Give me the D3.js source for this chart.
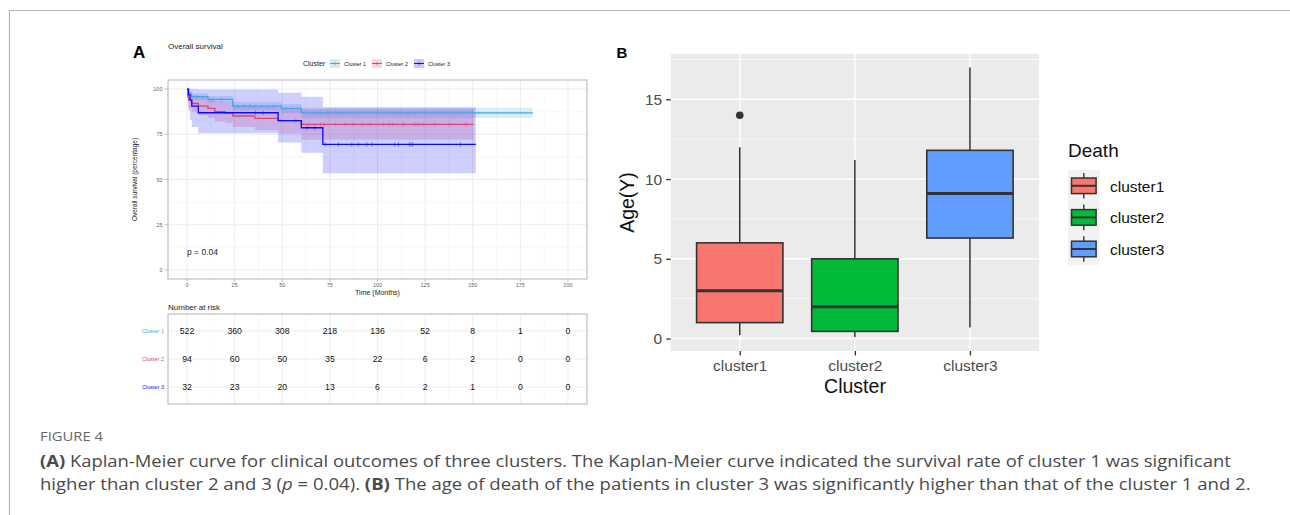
<!DOCTYPE html>
<html>
<head>
<meta charset="utf-8">
<script src="https://cdn.jsdelivr.net/npm/d3@7"></script>
<style>
  body { margin: 0; background: #fff; }
  svg { display: block; font-family: "Liberation Sans", Arial, sans-serif; }
</style>
</head>
<body>
<div id="fig"></div>
<script>
  // ---------- panel A data ----------
  var clusters = ["Cluster 1", "Cluster 2", "Cluster 3"];
  var kmColors = ["#45a5e6", "#dc4470", "#0a0aff"];

  var c1Time  = [0, 1, 2.4, 11, 24, 49.5, 60, 181.5];
  var c1Surv  = [100, 97.6, 95.8, 94.3, 90.6, 89.3, 86.8, 86.8];
  var c1Lower = [100, 96, 94, 92.4, 88.3, 86.8, 84, 84];
  var c1Upper = [100, 99, 97.6, 96.2, 93, 91.8, 89.7, 89.7];
  var c1Cens  = [5, 8, 14, 18, 27, 30, 33, 36, 39, 42, 45, 52, 55, 58, 63, 66, 70, 74, 78, 82, 86, 90, 95, 100, 104, 108, 112, 116, 120, 125, 130, 135, 140, 145, 150, 153];

  var c2Time  = [0, 0.4, 0.8, 2.4, 5.9, 11, 14.6, 20, 24, 35.6, 47.8, 60, 150.5];
  var c2Surv  = [100, 95.7, 93.9, 92, 90.6, 89.3, 87.5, 86.9, 85.1, 83.8, 82.5, 80.5, 80.5];
  var c2Lower = [100, 91.5, 89.5, 87.4, 85.5, 84, 82, 81.2, 79, 77.2, 75.4, 72, 72];
  var c2Upper = [100, 99, 98, 96.5, 95.5, 94.5, 93, 92.5, 91, 90.5, 89.5, 88.8, 88.8];
  var c2Cens  = [49, 57, 64, 70, 72, 78, 83, 87, 92, 96, 103, 106, 108, 113, 114, 119, 120, 121, 122, 124, 130, 138, 146, 147];

  var c3Time  = [0, 0.7, 1.6, 2.5, 5.9, 47.8, 60, 71.3, 151.6];
  var c3Surv  = [100, 96.8, 93.9, 90.6, 86.9, 82.5, 78.6, 69.4, 69.4];
  var c3Lower = [100, 88, 83, 79, 75.5, 70.5, 64.8, 53.4, 53.4];
  var c3Upper = [100, 100, 100, 100, 99.8, 98, 95.8, 90, 90];
  var c3Cens  = [36, 40, 63, 67, 72.5, 79.5, 86.5, 90, 94.4, 97, 109, 111, 116.8, 117.6, 118.5, 143.6];

  var riskTimes = [0, 25, 50, 75, 100, 125, 150, 175, 200];
  var risk1 = [522, 360, 308, 218, 136, 52, 8, 1, 0];
  var risk2 = [94, 60, 50, 35, 22, 6, 2, 0, 0];
  var risk3 = [32, 23, 20, 13, 6, 2, 1, 0, 0];

  // ---------- panel B data ----------
  var boxCats   = ["cluster1", "cluster2", "cluster3"];
  var boxLow    = [0.2, 0.1, 0.7];
  var boxQ1     = [1, 0.45, 6.3];
  var boxMed    = [3, 2, 9.1];
  var boxQ3     = [6, 5, 11.8];
  var boxHigh   = [12, 11.2, 17];
  var boxOut    = [[14], [], []];
  var boxColors = ["#F8766D", "#00BA38", "#619CFF"];

  var kmData = [
    {time: c1Time, surv: c1Surv, lo: c1Lower, hi: c1Upper, cens: c1Cens},
    {time: c2Time, surv: c2Surv, lo: c2Lower, hi: c2Upper, cens: c2Cens},
    {time: c3Time, surv: c3Surv, lo: c3Lower, hi: c3Upper, cens: c3Cens}
  ];
  var riskRows = [risk1, risk2, risk3];

  var svg = d3.select("#fig").append("svg")
      .attr("width", 1290).attr("height", 515);

  // figure frame
  svg.append("path")
      .attr("d", "M9.5,515V10.5H1290")
      .attr("fill", "none").attr("stroke", "#b5b5b5").attr("stroke-width", 1.2);

  // =================== PANEL A ===================
  var x = d3.scaleLinear().domain([-10, 210]).range([168, 587]);
  var y = d3.scaleLinear().domain([-5, 105]).range([279, 80]);

  svg.append("text").attr("x", 133).attr("y", 57.5)
      .style("font-size", "17px").style("font-weight", "bold").text("A");
  svg.append("text").attr("x", 168).attr("y", 49)
      .style("font-size", "8px").attr("fill", "#222").text("Overall survival");

  var gA = svg.append("g");
  var minorX = d3.range(12.5, 200, 25), majorX = d3.range(0, 201, 25);
  var minorY = [12.5, 37.5, 62.5, 87.5], majorY = [0, 25, 50, 75, 100];

  gA.selectAll(".mnx").data(minorX).enter().append("line")
      .attr("x1", d => x(d)).attr("x2", d => x(d)).attr("y1", 80).attr("y2", 279)
      .attr("stroke", "#f4f4f4").attr("stroke-width", 0.6);
  gA.selectAll(".mny").data(minorY).enter().append("line")
      .attr("y1", d => y(d)).attr("y2", d => y(d)).attr("x1", 168).attr("x2", 587)
      .attr("stroke", "#f4f4f4").attr("stroke-width", 0.6);
  gA.selectAll(".mjx").data(majorX).enter().append("line")
      .attr("x1", d => x(d)).attr("x2", d => x(d)).attr("y1", 80).attr("y2", 279)
      .attr("stroke", "#ebebeb").attr("stroke-width", 0.9);
  gA.selectAll(".mjy").data(majorY).enter().append("line")
      .attr("y1", d => y(d)).attr("y2", d => y(d)).attr("x1", 168).attr("x2", 587)
      .attr("stroke", "#ebebeb").attr("stroke-width", 0.9);

  var band = d3.area().curve(d3.curveStepAfter)
      .x(d => x(d[0])).y0(d => y(d[1])).y1(d => y(d[2]));
  var step = d3.line().curve(d3.curveStepAfter)
      .x(d => x(d[0])).y(d => y(d[1]));

  kmData.forEach(function(k, i) {
    var pts = k.time.map((t, j) => [t, k.lo[j], k.hi[j]]);
    gA.append("path").attr("d", band(pts))
        .attr("fill", kmColors[i]).attr("fill-opacity", 0.2);
  });
  kmData.forEach(function(k, i) {
    var pts = k.time.map((t, j) => [t, k.surv[j]]);
    gA.append("path").attr("d", step(pts))
        .attr("fill", "none").attr("stroke", kmColors[i]).attr("stroke-width", 1.3);
    gA.selectAll(null).data(k.cens).enter().append("line")
        .attr("x1", d => x(d)).attr("x2", d => x(d))
        .attr("y1", function(d) { var j = d3.bisectRight(k.time, d) - 1; return y(k.surv[j]) - 2.2; })
        .attr("y2", function(d) { var j = d3.bisectRight(k.time, d) - 1; return y(k.surv[j]) + 2.2; })
        .attr("stroke", kmColors[i]).attr("stroke-width", 0.5).attr("stroke-opacity", 0.8);
  });

  gA.append("rect").attr("x", 168).attr("y", 80).attr("width", 419).attr("height", 199)
      .attr("fill", "none").attr("stroke", "#b3b3b3").attr("stroke-width", 1);

  // axes A
  var axA = svg.append("g").style("font-size", "5.5px").attr("fill", "#666");
  axA.selectAll(".yt").data(majorY).enter().append("text")
      .attr("x", 162.5).attr("y", d => y(d) + 2).attr("text-anchor", "end").text(d => d);
  axA.selectAll(".ytk").data(majorY).enter().append("line")
      .attr("x1", 164.5).attr("x2", 168).attr("y1", d => y(d)).attr("y2", d => y(d))
      .attr("stroke", "#999").attr("stroke-width", 0.6);
  axA.selectAll(".xt").data(majorX).enter().append("text")
      .attr("x", d => x(d)).attr("y", 286.5).attr("text-anchor", "middle").text(d => d);
  axA.selectAll(".xtk").data(majorX).enter().append("line")
      .attr("x1", d => x(d)).attr("x2", d => x(d)).attr("y1", 279).attr("y2", 282)
      .attr("stroke", "#999").attr("stroke-width", 0.6);

  svg.append("text").attr("x", 377.5).attr("y", 294.5).attr("text-anchor", "middle")
      .style("font-size", "7px").attr("fill", "#222").text("Time (Months)");
  svg.append("text").attr("transform", "translate(137,179.5) rotate(-90)")
      .attr("text-anchor", "middle").style("font-size", "6.5px").attr("fill", "#222")
      .text("Overall survival (percentage)");
  svg.append("text").attr("x", 187).attr("y", 254.5)
      .style("font-size", "8.5px").attr("fill", "#222").text("p = 0.04");

  // legend A
  var lgA = svg.append("g");
  lgA.append("text").attr("x", 303).attr("y", 66).style("font-size", "7px").attr("fill", "#222").text("Cluster");
  var keyX = [330, 372, 414];
  clusters.forEach(function(c, i) {
    var k = lgA.append("g").attr("transform", "translate(" + keyX[i] + ",59)");
    k.append("rect").attr("width", 10).attr("height", 9).attr("fill", kmColors[i]).attr("fill-opacity", 0.22);
    k.append("line").attr("x1", 0).attr("x2", 10).attr("y1", 4.5).attr("y2", 4.5)
        .attr("stroke", kmColors[i]).attr("stroke-width", 1);
    k.append("line").attr("x1", 5).attr("x2", 5).attr("y1", 2.5).attr("y2", 6.5)
        .attr("stroke", kmColors[i]).attr("stroke-width", 0.6);
    lgA.append("text").attr("x", keyX[i] + 14).attr("y", 65.5)
        .style("font-size", "5.5px").attr("fill", "#222").text(c);
  });

  // risk table
  svg.append("text").attr("x", 168).attr("y", 309.5).style("font-size", "8px").attr("fill", "#222").text("Number at risk");
  var yr = d3.scalePoint().domain(clusters).range([314, 404]).padding(0.6);
  var gR = svg.append("g");
  gR.selectAll(".rmn").data(minorX).enter().append("line")
      .attr("x1", d => x(d)).attr("x2", d => x(d)).attr("y1", 314).attr("y2", 404)
      .attr("stroke", "#f4f4f4").attr("stroke-width", 0.6);
  gR.selectAll(".rmj").data(majorX).enter().append("line")
      .attr("x1", d => x(d)).attr("x2", d => x(d)).attr("y1", 314).attr("y2", 404)
      .attr("stroke", "#ebebeb").attr("stroke-width", 0.9);
  gR.selectAll(".rrow").data(clusters).enter().append("line")
      .attr("x1", 168).attr("x2", 587).attr("y1", d => yr(d)).attr("y2", d => yr(d))
      .attr("stroke", "#ebebeb").attr("stroke-width", 0.9);
  gR.append("rect").attr("x", 168).attr("y", 314).attr("width", 419).attr("height", 90)
      .attr("fill", "none").attr("stroke", "#b3b3b3").attr("stroke-width", 1);
  riskRows.forEach(function(row, i) {
    gR.selectAll(null).data(row).enter().append("text")
        .attr("x", (d, j) => x(riskTimes[j])).attr("y", yr(clusters[i]) + 3.2)
        .attr("text-anchor", "middle").style("font-size", "8.7px").attr("fill", "#111")
        .text(d => d);
    gR.append("text").attr("x", 164).attr("y", yr(clusters[i]) + 2)
        .attr("text-anchor", "end").style("font-size", "5.5px")
        .attr("fill", kmColors[i]).text(clusters[i]);
  });

  // =================== PANEL B ===================
  var xb = d3.scalePoint().domain(boxCats).range([670.7, 1039]).padding(0.6);
  var yb = d3.scaleLinear().domain([-0.78, 17.84]).range([351, 54]);
  var bw = xb.step() * 0.75;

  svg.append("text").attr("x", 616.5).attr("y", 57.5)
      .style("font-size", "15px").style("font-weight", "bold").text("B");

  var gB = svg.append("g");
  gB.append("rect").attr("x", 670.7).attr("y", 54).attr("width", 1039 - 670.7).attr("height", 297)
      .attr("fill", "#EBEBEB");
  gB.selectAll(".bmn").data([2.5, 7.5, 12.5, 17.5]).enter().append("line")
      .attr("x1", 670.7).attr("x2", 1039).attr("y1", d => yb(d)).attr("y2", d => yb(d))
      .attr("stroke", "#fff").attr("stroke-width", 0.7);
  gB.selectAll(".bmj").data([0, 5, 10, 15]).enter().append("line")
      .attr("x1", 670.7).attr("x2", 1039).attr("y1", d => yb(d)).attr("y2", d => yb(d))
      .attr("stroke", "#fff").attr("stroke-width", 1.4);
  gB.selectAll(".bvx").data(boxCats).enter().append("line")
      .attr("x1", d => xb(d)).attr("x2", d => xb(d)).attr("y1", 54).attr("y2", 351)
      .attr("stroke", "#fff").attr("stroke-width", 1.4);

  boxCats.forEach(function(c, i) {
    var cx = xb(c);
    gB.append("line").attr("x1", cx).attr("x2", cx).attr("y1", yb(boxQ3[i])).attr("y2", yb(boxHigh[i]))
        .attr("stroke", "#333").attr("stroke-width", 1.5);
    gB.append("line").attr("x1", cx).attr("x2", cx).attr("y1", yb(boxQ1[i])).attr("y2", yb(boxLow[i]))
        .attr("stroke", "#333").attr("stroke-width", 1.5);
    gB.append("rect").attr("x", cx - bw / 2).attr("y", yb(boxQ3[i]))
        .attr("width", bw).attr("height", yb(boxQ1[i]) - yb(boxQ3[i]))
        .attr("fill", boxColors[i]).attr("stroke", "#333").attr("stroke-width", 1.6);
    gB.append("line").attr("x1", cx - bw / 2).attr("x2", cx + bw / 2)
        .attr("y1", yb(boxMed[i])).attr("y2", yb(boxMed[i]))
        .attr("stroke", "#333").attr("stroke-width", 3);
    gB.selectAll(null).data(boxOut[i]).enter().append("circle")
        .attr("cx", cx).attr("cy", d => yb(d)).attr("r", 3.8).attr("fill", "#333");
  });

  var yAxisB = svg.append("g").attr("transform", "translate(670.7,0)")
      .call(d3.axisLeft(yb).tickValues([0, 5, 10, 15]).tickSize(4.5).tickPadding(4));
  var xAxisB = svg.append("g").attr("transform", "translate(0,351)")
      .call(d3.axisBottom(xb).tickSize(4.5).tickPadding(4));
  [yAxisB, xAxisB].forEach(function(a) {
    a.select(".domain").remove();
    a.selectAll(".tick line").attr("stroke", "#333").attr("stroke-width", 1.3);
    a.selectAll(".tick text").attr("fill", "#4D4D4D")
        .style("font-size", "15.5px").style("font-family", "Liberation Sans, Arial, sans-serif");
  });

  svg.append("text").attr("x", 855).attr("y", 393).attr("text-anchor", "middle")
      .style("font-size", "19.5px").attr("fill", "#111").text("Cluster");
  svg.append("text").attr("transform", "translate(634,202.5) rotate(-90)")
      .attr("text-anchor", "middle").style("font-size", "19.5px").attr("fill", "#111").text("Age(Y)");

  // legend B
  svg.append("text").attr("x", 1068).attr("y", 157).style("font-size", "19px").attr("fill", "#111").text("Death");
  var lgB = svg.append("g").attr("transform", "translate(1068,170)");
  boxCats.forEach(function(c, i) {
    var k = lgB.append("g").attr("transform", "translate(0," + (i * 31.6) + ")");
    k.append("rect").attr("width", 31.6).attr("height", 31.6).attr("fill", "#F2F2F2");
    k.append("line").attr("x1", 15.8).attr("x2", 15.8).attr("y1", 3).attr("y2", 28.6)
        .attr("stroke", "#333").attr("stroke-width", 1.4);
    k.append("rect").attr("x", 3.5).attr("y", 8).attr("width", 24.6).attr("height", 15.6)
        .attr("fill", boxColors[i]).attr("stroke", "#333").attr("stroke-width", 1.5);
    k.append("line").attr("x1", 3.5).attr("x2", 28.1).attr("y1", 15.8).attr("y2", 15.8)
        .attr("stroke", "#333").attr("stroke-width", 2);
    lgB.append("text").attr("x", 42).attr("y", i * 31.6 + 21.5)
        .style("font-size", "15.5px").attr("fill", "#111").text(c);
  });

  // =================== caption ===================
  var capFont = "'Open Sans', 'Noto Sans', sans-serif";
  function capLine(parts, yy, target, size, color) {
    var g = svg.append("g").attr("transform", "translate(40," + yy + ")");
    var t = g.append("text").attr("x", 0).attr("y", 0)
        .style("font-family", capFont).style("font-size", size + "px").attr("fill", color);
    parts.forEach(function(p) {
      var s = t.append("tspan");
      if (typeof p === "string") s.text(p);
      else if (p.b) s.style("font-weight", "bold").text(p.b);
      else if (p.i) s.style("font-style", "italic").text(p.i);
    });
    var w = t.node().getComputedTextLength();
    t.attr("transform", "scale(" + (target / w) + ",1)");
  }
  capLine(["FIGURE 4"], 441, 63, 12, "#666");
  capLine([{b: "(A)"}, " Kaplan-Meier curve for clinical outcomes of three clusters. The Kaplan-Meier curve indicated the survival rate of cluster 1 was significant"],
      466.5, 1192, 16.5, "#4a4a4a");
  capLine(["higher than cluster 2 and 3 (", {i: "p"}, " = 0.04). ", {b: "(B)"}, " The age of death of the patients in cluster 3 was significantly higher than that of the cluster 1 and 2."],
      490, 1211, 16.5, "#4a4a4a");
</script>
</body>
</html>
